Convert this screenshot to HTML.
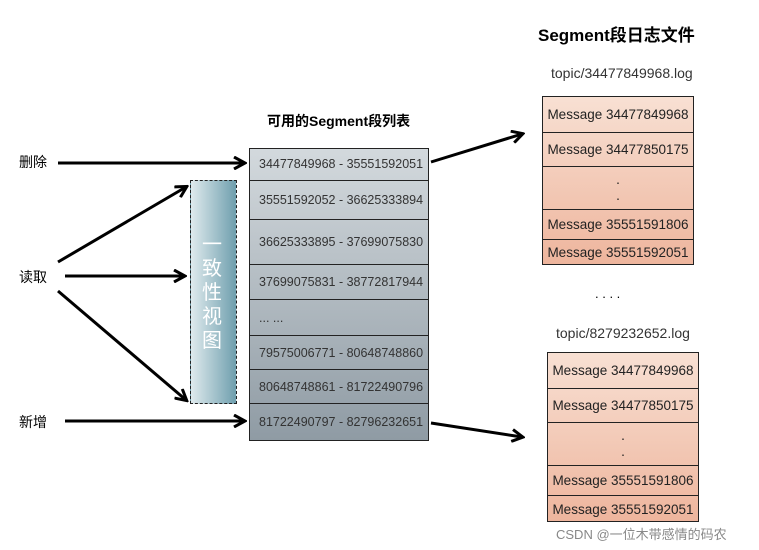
<!DOCTYPE html>
<html><head><meta charset="utf-8"><style>
body{margin:0;background:#fff;width:759px;height:550px;overflow:hidden;position:relative;font-family:"Liberation Sans","Noto Sans CJK SC",sans-serif}
.t{position:absolute;white-space:nowrap}
.list{position:absolute;left:249px;top:148px;width:178px;height:291px;border:1.5px solid #222;background:linear-gradient(#d3d9dd,#8f9ba4)}
.row{position:absolute;left:0;width:178px;border-top:1.5px solid #222;font-size:12.5px;color:#333;padding-left:9px;box-sizing:border-box;display:flex;align-items:center}
.msg{position:absolute;width:150px;border:1.5px solid #222;background:linear-gradient(#f8e0d3,#eeb59d)}
.mrow{position:absolute;left:0;width:150px;border-top:1.5px solid #222;font-size:13.5px;color:#222;display:flex;align-items:center;justify-content:center;box-sizing:border-box}
</style></head><body>
<div class="t" style="left:538px;top:21px;font-size:17px;font-weight:bold">Segment段日志文件</div>
<div class="t" style="left:551px;top:65px;font-size:14px;color:#333">topic/34477849968.log</div>
<div class="t" style="left:556px;top:325px;font-size:14px;color:#333">topic/8279232652.log</div>
<div class="t" style="left:267px;top:111px;font-size:14px;font-weight:bold">可用的Segment段列表</div>
<div class="t" style="left:19px;top:152px;font-size:14px">删除</div>
<div class="t" style="left:19px;top:267px;font-size:14px">读取</div>
<div class="t" style="left:19px;top:412px;font-size:14px">新增</div>
<div class="t" style="left:595px;top:286px;font-size:13px">. . . .</div>
<div class="t" style="left:556px;top:524px;font-size:13px;color:#888">CSDN @一位木带感情的码农</div>

<div class="list">
<div class="row" style="top:-1px;height:32px;border-top:none">34477849968 - 35551592051</div>
<div class="row" style="top:31px;height:39px">35551592052 - 36625333894</div>
<div class="row" style="top:70px;height:45px">36625333895 - 37699075830</div>
<div class="row" style="top:115px;height:35px">37699075831 - 38772817944</div>
<div class="row" style="top:150px;height:36px">... ...</div>
<div class="row" style="top:186px;height:34px">79575006771 - 80648748860</div>
<div class="row" style="top:220px;height:34px">80648748861 - 81722490796</div>
<div class="row" style="top:254px;height:37px">81722490797 - 82796232651</div>
</div>

<div style="position:absolute;left:190px;top:180px;width:45px;height:222px;border:1.5px dashed #222;background:linear-gradient(90deg,#dfeaed,#6f9fae)"></div>
<div class="t" style="left:202px;top:233px;font-size:20px;line-height:24px;color:#fff;white-space:normal;width:24px">一<br>致<br>性<br>视<br>图</div>

<div class="msg" style="left:542px;top:96px;height:167px">
<div class="mrow" style="top:-1px;height:36px;border-top:none">Message 34477849968</div>
<div class="mrow" style="top:35px;height:34px">Message 34477850175</div>
<div class="mrow" style="top:69px;height:43px;flex-direction:column;line-height:16px">.<br>.</div>
<div class="mrow" style="top:112px;height:30px">Message 35551591806</div>
<div class="mrow" style="top:142px;height:26px">Message 35551592051</div>
</div>
<div class="msg" style="left:547px;top:352px;height:168px">
<div class="mrow" style="top:-1px;height:36px;border-top:none">Message 34477849968</div>
<div class="mrow" style="top:35px;height:34px">Message 34477850175</div>
<div class="mrow" style="top:69px;height:43px;flex-direction:column;line-height:16px">.<br>.</div>
<div class="mrow" style="top:112px;height:30px">Message 35551591806</div>
<div class="mrow" style="top:142px;height:27px">Message 35551592051</div>
</div>

<svg width="759" height="550" style="position:absolute;left:0;top:0">
<defs><marker id="a" markerWidth="14" markerHeight="14" refX="11" refY="7" orient="auto" markerUnits="userSpaceOnUse"><path d="M1,1 L12,7 L1,13" fill="none" stroke="#000" stroke-width="3"/></marker></defs>
<g stroke="#000" stroke-width="3" fill="none" marker-end="url(#a)">
<line x1="58" y1="163" x2="244" y2="163"/>
<line x1="65" y1="276" x2="184" y2="276"/>
<line x1="58" y1="262" x2="186" y2="187"/>
<line x1="58" y1="291" x2="186" y2="400"/>
<line x1="65" y1="421" x2="244" y2="421"/>
<line x1="431" y1="162" x2="522" y2="134"/>
<line x1="431" y1="423" x2="522" y2="437"/>
</g></svg>
</body></html>
